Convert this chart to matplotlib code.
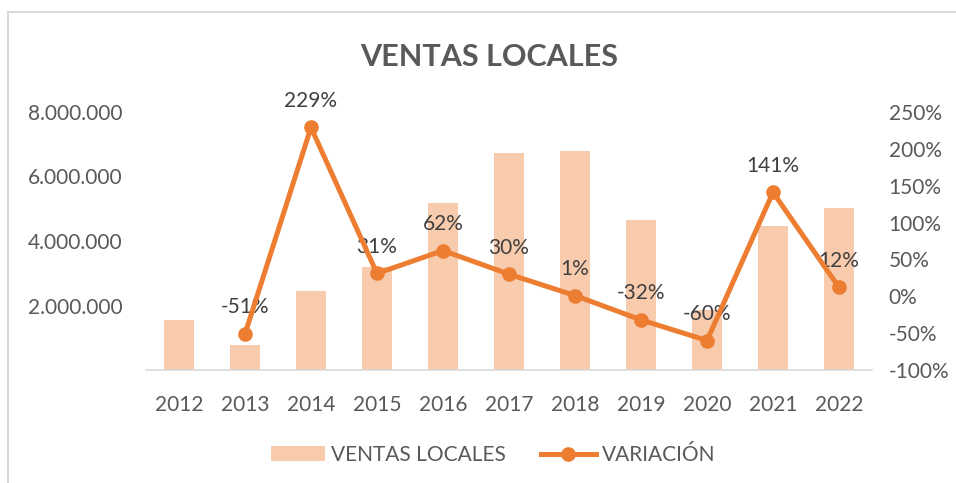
import matplotlib.pyplot as plt
from matplotlib.lines import Line2D
from matplotlib.ticker import FuncFormatter
import numpy as np

years = ['2012', '2013', '2014', '2015', '2016', '2017', '2018', '2019', '2020', '2021', '2022']
ventas = [1550000, 780000, 2450000, 3190000, 5180000, 6730000, 6790000, 4650000, 1860000, 4470000, 5020000]
variacion_years = ['2013', '2014', '2015', '2016', '2017', '2018', '2019', '2020', '2021', '2022']
variacion = [-51, 229, 31, 62, 30, 1, -32, -60, 141, 12]

bar_color = '#F8CBAD'
line_color = '#ED7D31'
text_color = '#595959'

plt.rcParams['font.family'] = ['Lato', 'DejaVu Sans']

fig = plt.figure(figsize=(9.56, 4.83), dpi=100)
ax = fig.add_axes([146 / 956, 1 - 370 / 483, 726 / 956, 258 / 483])
ax2 = ax.twinx()

x = np.arange(len(years))
ax.bar(x, ventas, width=0.44, color=bar_color, label='VENTAS LOCALES', zorder=2)
ax.set_xlim(-0.5, len(years) - 0.5)
ax.set_ylim(0, 8000000)
ax.set_yticks([2000000, 4000000, 6000000, 8000000])
ax.yaxis.set_major_formatter(FuncFormatter(lambda v, p: f'{int(v):,}'.replace(',', '.')))
ax.set_xticks(x)
ax.set_xticklabels(years)

xv = [years.index(y) for y in variacion_years]
ax2.plot(xv, variacion, color=line_color, lw=3.6, marker='o', markersize=9.5,
         label='VARIACIÓN', zorder=5)
ax2.set_ylim(-100, 250)
ax2.set_yticks(range(-100, 251, 50))
ax2.yaxis.set_major_formatter(FuncFormatter(lambda v, p: f'{int(v)}%'))

# data labels sit under the line, as in the original
for xi, v in zip(xv, variacion):
    ax2.annotate(f'{v}%', (xi, v), xytext=(0, 12), textcoords='offset points',
                 ha='center', va='bottom', fontsize=15, color='#404040', zorder=3)

for a in (ax, ax2):
    for s in a.spines.values():
        s.set_visible(False)
    a.tick_params(length=0, labelsize=15, labelcolor=text_color)
ax.spines['bottom'].set_visible(True)
ax.spines['bottom'].set_color('#D9D9D9')
ax.spines['bottom'].set_linewidth(1.2)
ax.tick_params(axis='y', pad=17)
ax.tick_params(axis='x', pad=18)
ax2.tick_params(axis='y', pad=12)
ax.set_zorder(ax2.get_zorder() - 1)
ax.patch.set_visible(False)

fig.text(489 / 956, 1 - 57 / 483, 'VENTAS LOCALES', ha='center', va='center',
         fontsize=22, fontweight='bold', color=text_color)

h1, l1 = ax.get_legend_handles_labels()
h2, l2 = ax2.get_legend_handles_labels()
fig.legend(h1 + h2, l1 + l2, loc='center', bbox_to_anchor=(493 / 956, 1 - 455 / 483),
           ncol=2, frameon=False, fontsize=15, labelcolor=text_color,
           handlelength=2.6, columnspacing=1.7, handletextpad=0.3)

fig.add_artist(Line2D([8 / 956, 8 / 956], [0, 1 - 12 / 483], color='#D9D9D9', lw=1.5))
fig.add_artist(Line2D([8 / 956, 1], [1 - 12 / 483, 1 - 12 / 483], color='#D9D9D9', lw=1.5))

fig.savefig('out.png', dpi=100, facecolor='white')
